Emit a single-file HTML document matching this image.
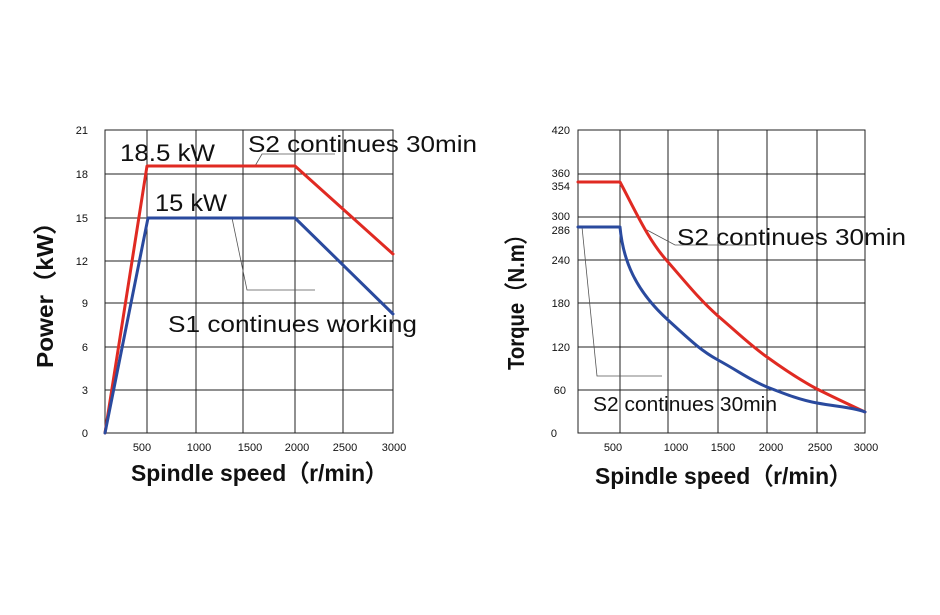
<!DOCTYPE html>
<html><head><style>body{margin:0;background:#fff}</style></head><body>
<svg width="940" height="610" xmlns="http://www.w3.org/2000/svg" font-family="Liberation Sans, sans-serif">
<rect width="940" height="610" fill="#fff"/>
<g stroke="#222" stroke-width="1" fill="none">
<rect x="105" y="130" width="288" height="303"/>
<path d="M147 130V433M196 130V433M243 130V433M295 130V433M343 130V433M105 174H393M105 218H393M105 261H393M105 303H393M105 347H393M105 390H393"/>
<rect x="578" y="130" width="287" height="303"/>
<path d="M620 130V433M668 130V433M718 130V433M767 130V433M817 130V433M578 174H865M578 217H865M578 260H865M578 303H865M578 347H865M578 390H865"/>
</g>
<g stroke="#555" stroke-width="0.8" fill="none">
<path d="M232 218L247 290H315"/>
<path d="M255 166L262 154H335"/>
<path d="M647 230L675 245H755"/>
<path d="M582 227L597 376H662"/>
</g>
<g fill="none" stroke-width="3" stroke-linejoin="round" stroke-linecap="round">
<polyline stroke="#e02a22" points="105,433 147,166 295,166 393,254"/>
<polyline stroke="#2a4a9e" points="105,433 148,218 295,218 393,314"/>
<path stroke="#e02a22" d="M578 182H620C635 210 648 240 668 262C688 285 700 300 718 316C738 333 750 345 767 357C785 370 800 380 817 389C835 398 850 405 865 412"/>
<path stroke="#2a4a9e" d="M578 227H620C623 260 635 290 668 320C690 340 700 350 718 360C740 372 750 380 767 387C785 394 800 400 817 403C840 407 855 408 865 412"/>
</g>
<g font-size="11" fill="#111" text-anchor="end">
<text x="88" y="134">21</text><text x="88" y="178">18</text><text x="88" y="222">15</text><text x="88" y="265">12</text><text x="88" y="307">9</text><text x="88" y="351">6</text><text x="88" y="394">3</text><text x="88" y="437">0</text>
<text x="570" y="134">420</text><text x="570" y="177">360</text><text x="570" y="190">354</text><text x="570" y="220">300</text><text x="570" y="234">286</text><text x="570" y="264">240</text><text x="570" y="307">180</text><text x="570" y="351">120</text><text x="566" y="394">60</text><text x="557" y="437">0</text>
</g>
<g font-size="11" fill="#111" text-anchor="middle">
<text x="142" y="451">500</text><text x="199" y="451">1000</text><text x="250" y="451">1500</text><text x="297" y="451">2000</text><text x="345" y="451">2500</text><text x="394" y="451">3000</text>
<text x="613" y="451">500</text><text x="676" y="451">1000</text><text x="723" y="451">1500</text><text x="771" y="451">2000</text><text x="820" y="451">2500</text><text x="866" y="451">3000</text>
</g>
<g fill="#111">
<text x="120" y="161" font-size="24" textLength="95" lengthAdjust="spacingAndGlyphs">18.5 kW</text>
<text x="248" y="152" font-size="23" textLength="229" lengthAdjust="spacingAndGlyphs">S2 continues 30min</text>
<text x="155" y="211" font-size="24" textLength="72" lengthAdjust="spacingAndGlyphs">15 kW</text>
<text x="168" y="332" font-size="23" textLength="249" lengthAdjust="spacingAndGlyphs">S1 continues working</text>
<text x="677" y="245" font-size="23" textLength="229" lengthAdjust="spacingAndGlyphs">S2 continues 30min</text>
<text x="593" y="411" font-size="20" textLength="184" lengthAdjust="spacingAndGlyphs">S2 continues 30min</text>
<text x="131" y="481" font-size="23" font-weight="bold" textLength="257" lengthAdjust="spacingAndGlyphs">Spindle speed（r/min）</text>
<text x="595" y="484" font-size="23" font-weight="bold" textLength="257" lengthAdjust="spacingAndGlyphs">Spindle speed（r/min）</text>
<text transform="translate(53,368) rotate(-90)" font-size="23" font-weight="bold" textLength="158" lengthAdjust="spacingAndGlyphs">Power（kW）</text>
<text transform="translate(524,370) rotate(-90)" font-size="23" font-weight="bold" textLength="146" lengthAdjust="spacingAndGlyphs">Torque（N.m）</text>
</g>
</svg>
</body></html>
